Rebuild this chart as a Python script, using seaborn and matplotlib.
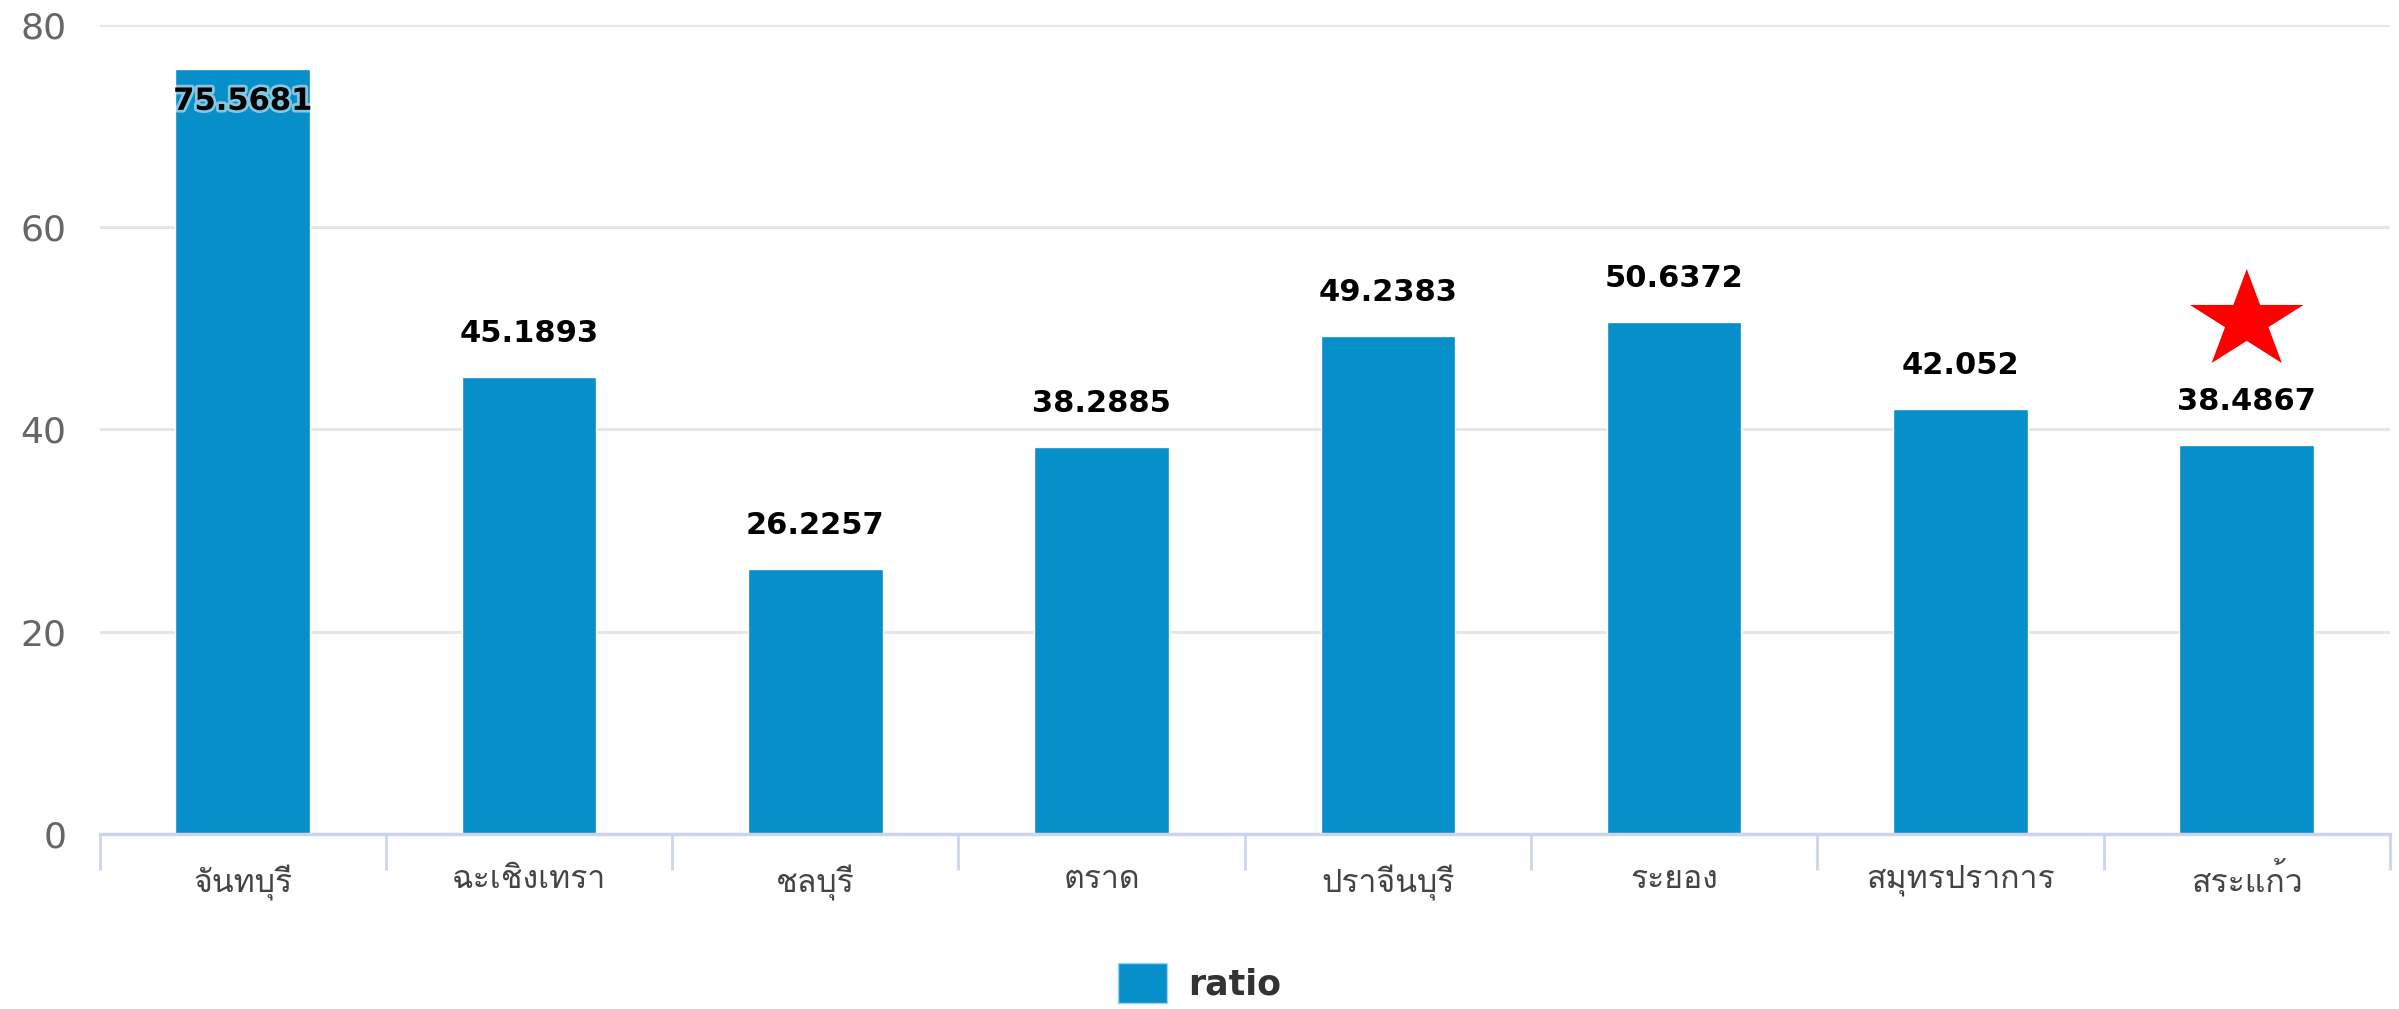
import matplotlib
matplotlib.use("Agg")
import matplotlib.pyplot as plt
import matplotlib.patheffects as pe
from matplotlib import font_manager
from matplotlib.ft2font import FT2Font
from matplotlib.markers import MarkerStyle
from matplotlib.patches import Patch
from matplotlib.transforms import Affine2D
import seaborn as sns
import pandas as pd

# data
provinces = ["จันทบุรี", "ฉะเชิงเทรา", "ชลบุรี", "ตราด", "ปราจีนบุรี", "ระยอง", "สมุทรปราการ", "สระแก้ว"]
ratio = [75.5681, 45.1893, 26.2257, 38.2885, 49.2383, 50.6372, 42.052, 38.4867]
label_text = ["75.5681", "45.1893", "26.2257", "38.2885", "49.2383", "50.6372", "42.052", "38.4867"]
star_province = "สระแก้ว"
star_level = 50.7
y_ticks = [0, 20, 40, 60, 80]
series_name = "ratio"


def find_thai_font():
    # pick the first installed font that has Thai glyphs
    for f in font_manager.fontManager.ttflist:
        try:
            cmap = FT2Font(f.fname).get_charmap()
        except Exception:
            continue
        if 0x0E08 in cmap and 0x0E38 in cmap:
            return f.name
    return None


sns.set_theme(style="white")
thai = find_thai_font()
families = ["DejaVu Sans"]
if thai:
    families = [thai, "DejaVu Sans"]
plt.rcParams["font.family"] = families

df = pd.DataFrame({"province": provinces, "ratio": ratio})
bar_color = "#068fc8"

fig = plt.figure(figsize=(23.99, 10.09), dpi=100)
ax = fig.add_axes([0.0415, 0.1734, 0.9547, 0.8023])

sns.barplot(data=df, x="province", y="ratio", color=bar_color, saturation=1,
            width=0.47, ax=ax, zorder=3)

ax.set_ylim(0, 80)
ax.set_xlim(-0.5, len(provinces) - 0.5)
ax.set_yticks(y_ticks)
ax.yaxis.grid(True, color="#e6e6e6", linewidth=2.2, zorder=0)
ax.set_axisbelow(True)
for s in ["top", "right", "left"]:
    ax.spines[s].set_visible(False)
ax.spines["bottom"].set_color("#ccd6eb")
ax.spines["bottom"].set_linewidth(2.5)
ax.spines["bottom"].set_zorder(4)

ax.tick_params(axis="y", left=False, length=0, labelsize=26, labelcolor="#666666", pad=24)
ax.set_yticklabels([str(t) for t in y_ticks], family="DejaVu Sans")

# category ticks on boundaries, labels centred
ax.set_xticks([i - 0.5 for i in range(len(provinces) + 1)], minor=True)
ax.tick_params(axis="x", which="minor", bottom=True, length=26, width=2,
               color="#ccd6eb", direction="out")
ax.tick_params(axis="x", which="major", bottom=False, length=0, labelsize=23,
               labelcolor="#444444", pad=22)
ax.set_xlabel("")
ax.set_ylabel("")

# value labels
for i, (v, txt) in enumerate(zip(ratio, label_text)):
    if v > 70:
        ax.annotate(txt, (i, v), xytext=(0, -23), textcoords="offset points",
                    ha="center", va="center", fontsize=22, fontweight="bold",
                    family="DejaVu Sans", color="black", zorder=5,
                    path_effects=[pe.withStroke(linewidth=4, foreground="white", alpha=0.5)])
    else:
        ax.annotate(txt, (i, v), xytext=(0, 31), textcoords="offset points",
                    ha="center", va="center", fontsize=22, fontweight="bold",
                    family="DejaVu Sans", color="black", zorder=5)

# red star marker (a little flatter than matplotlib's default star)
star_path = MarkerStyle("*").get_path().transformed(Affine2D().scale(1, 0.87))
ax.scatter([provinces.index(star_province)], [star_level], marker=star_path, s=6700,
           color="red", edgecolors="none", zorder=6, clip_on=False)

# legend
handle = Patch(facecolor=bar_color, edgecolor="#9fd3ea", label=series_name)
fig.legend(handles=[handle], loc="center", bbox_to_anchor=(0.5, 0.026), frameon=False,
           prop={"size": 25, "weight": "bold", "family": "DejaVu Sans"},
           labelcolor="#333333", handlelength=1.4, handleheight=1.4, handletextpad=0.6)

fig.savefig("out.png", dpi=100, facecolor="white")
